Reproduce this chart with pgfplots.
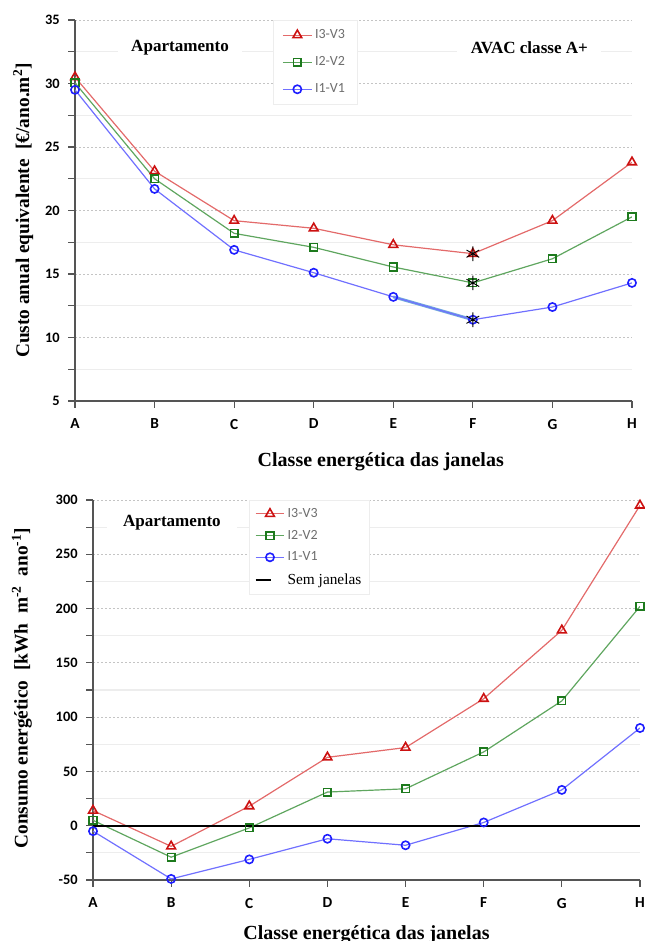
\documentclass[border=0pt]{standalone}
\usepackage{fontspec}
\setmainfont{Liberation Serif}
\newfontfamily\tickfont{Carlito}
\usepackage{pgfplots}
\pgfplotsset{compat=1.18}

\definecolor{redline}{HTML}{E36A6A}
\definecolor{redmark}{HTML}{CC1111}
\definecolor{greenline}{HTML}{5FA65F}
\definecolor{greenmark}{HTML}{1D7A1D}
\definecolor{blueline}{HTML}{7070FF}
\definecolor{bluemark}{HTML}{1E1EFF}
\definecolor{axisgray}{HTML}{555555}
\definecolor{gridgray}{HTML}{C4C4C4}
\definecolor{minorgray}{HTML}{EDEDED}
\definecolor{legendgray}{HTML}{6E6E6E}
\definecolor{cyanseg}{HTML}{6FA8DC}

\tikzset{
  note/.style={fill=white, inner xsep=10pt, inner ysep=2pt,
    font=\bfseries\fontsize{12.8}{15}\selectfont},
}

\pgfplotsset{
  chart/.style={
    scale only axis,
    xmin=0, xmax=7,
    xtick={0,...,7},
    xticklabels={A,B,C,D,E,F,G,H},
    axis x line*=bottom, axis y line*=left,
    axis line style={axisgray, line width=1.1pt},
    tick style={axisgray, line width=0.8pt},
    tick align=outside,
    major tick length=5pt, minor tick length=5pt,
    minor y tick num=1,
    ymajorgrids, yminorgrids,
    major grid style={gridgray, dash pattern=on 1.5pt off 1.5pt, line width=0.6pt},
    minor grid style={minorgray, line width=0.9pt},
    /pgf/number format/assume math mode=true,
    yticklabel style={font=\tickfont\bfseries\fontsize{10.8}{12}\selectfont, xshift=-3pt},
    xticklabel style={font=\tickfont\bfseries\fontsize{11.5}{13}\selectfont, yshift=-5pt},
    xlabel style={font=\bfseries\fontsize{15}{18}\selectfont},
    ylabel style={font=\bfseries\fontsize{14.5}{17}\selectfont},
    legend cell align=left,
    legend style={font=\tickfont\fontsize{10.5}{12.5}\selectfont, text=legendgray,
      draw=minorgray, fill=white, inner xsep=4pt, inner ysep=4pt},
    legend image code/.code={%
      \draw[mark repeat=2, mark phase=2] plot coordinates {(0cm,0cm) (0.38cm,0cm) (0.76cm,0cm)};},
  },
  s3/.style={redline, line width=0.9pt, mark=triangle, mark size=3.8pt,
    mark options={draw=redmark, fill=white, line width=1.2pt}},
  s2/.style={greenline, line width=0.9pt, mark=square, mark size=2.8pt,
    mark options={draw=greenmark, fill=white, line width=1.2pt}},
  s1/.style={blueline, line width=0.9pt, mark=o, mark size=3.1pt,
    mark options={draw=bluemark, fill=white, line width=1.2pt}},
}

\begin{document}
\begin{tikzpicture}
\path[use as bounding box] (0,0) rectangle (483.75pt,-705.75pt);

% Custo anual equivalente
\begin{axis}[chart,
  at={(56.25pt,-300.75pt)}, anchor=south west,
  width=417.75pt, height=285.75pt,
  ymin=5, ymax=35, ytick={5,10,...,35},
  xlabel={Classe energética das janelas},
  ylabel={Custo anual equivalente\ \ [€/ano.m\textsuperscript{2}]},
  xlabel style={at={(axis description cs:0.549,-0.160)}, anchor=center},
  ylabel style={at={(axis description cs:-0.093,0.50)}, anchor=center},
  legend style={at={(0.355,1)}, anchor=north west, row sep=8pt,
    inner xsep=7pt, inner ysep=5pt},
]
\addplot[s3] coordinates {(0,30.5) (1,23.1) (2,19.2) (3,18.6) (4,17.3) (5,16.6) (6,19.2) (7,23.8)};
\addlegendentry{I3-V3}
\addplot[s2] coordinates {(0,30.05) (1,22.5) (2,18.2) (3,17.1) (4,15.55) (5,14.3) (6,16.2) (7,19.5)};
\addlegendentry{I2-V2}
\addplot[cyanseg, line width=2.2pt, forget plot] coordinates {(4,13.2) (5,11.4)};
\addplot[s1] coordinates {(0,29.5) (1,21.7) (2,16.9) (3,15.1) (4,13.2) (5,11.4) (6,12.4) (7,14.3)};
\addlegendentry{I1-V1}
% optimum of each series
\addplot[only marks, mark=asterisk, mark size=5.5pt, black, line width=0.7pt, forget plot]
  coordinates {(5,16.6) (5,14.3) (5,11.4)};
\node[note] at (axis cs:1.32,32.8) {Apartamento};
\node[note] at (axis cs:5.71,32.8) {AVAC classe A+};
\end{axis}

% Consumo energético
\begin{axis}[chart,
  at={(69.75pt,-660pt)}, anchor=south west,
  width=410.25pt, height=285pt,
  ymin=-50, ymax=300, ytick={-50,0,...,300},
  xlabel={Classe energética das janelas},
  ylabel={Consumo energético\ \ [kWh\ \ m\textsuperscript{-2}\ \ ano\textsuperscript{-1}]},
  xlabel style={at={(axis description cs:0.5,-0.145)}, anchor=center},
  ylabel style={at={(axis description cs:-0.130,0.505)}, anchor=center},
  legend style={at={(0.285,1)}, anchor=north west, row sep=4pt},
]
\addplot[s3] coordinates {(0,14) (1,-19) (2,18) (3,63) (4,72) (5,117) (6,180) (7,295)};
\addlegendentry{I3-V3}
\addplot[s2] coordinates {(0,5) (1,-29) (2,-2) (3,31) (4,34) (5,68) (6,115) (7,202)};
\addlegendentry{I2-V2}
\addplot[s1] coordinates {(0,-5) (1,-49) (2,-31) (3,-12) (4,-18) (5,3) (6,33) (7,90)};
\addlegendentry{I1-V1}
\addplot[black, line width=1.4pt,
  legend image code/.code={\draw[black, line width=1.6pt] (0.0cm,0) -- (0.4cm,0);}]
  coordinates {(0,0) (7,0)};
\addlegendentry{\rmfamily\color{black}\fontsize{11.5}{13}\selectfont Sem janelas}
\node[note, inner xsep=12pt] at (axis cs:1.01,279) {Apartamento};
\end{axis}
\end{tikzpicture}
\end{document}
